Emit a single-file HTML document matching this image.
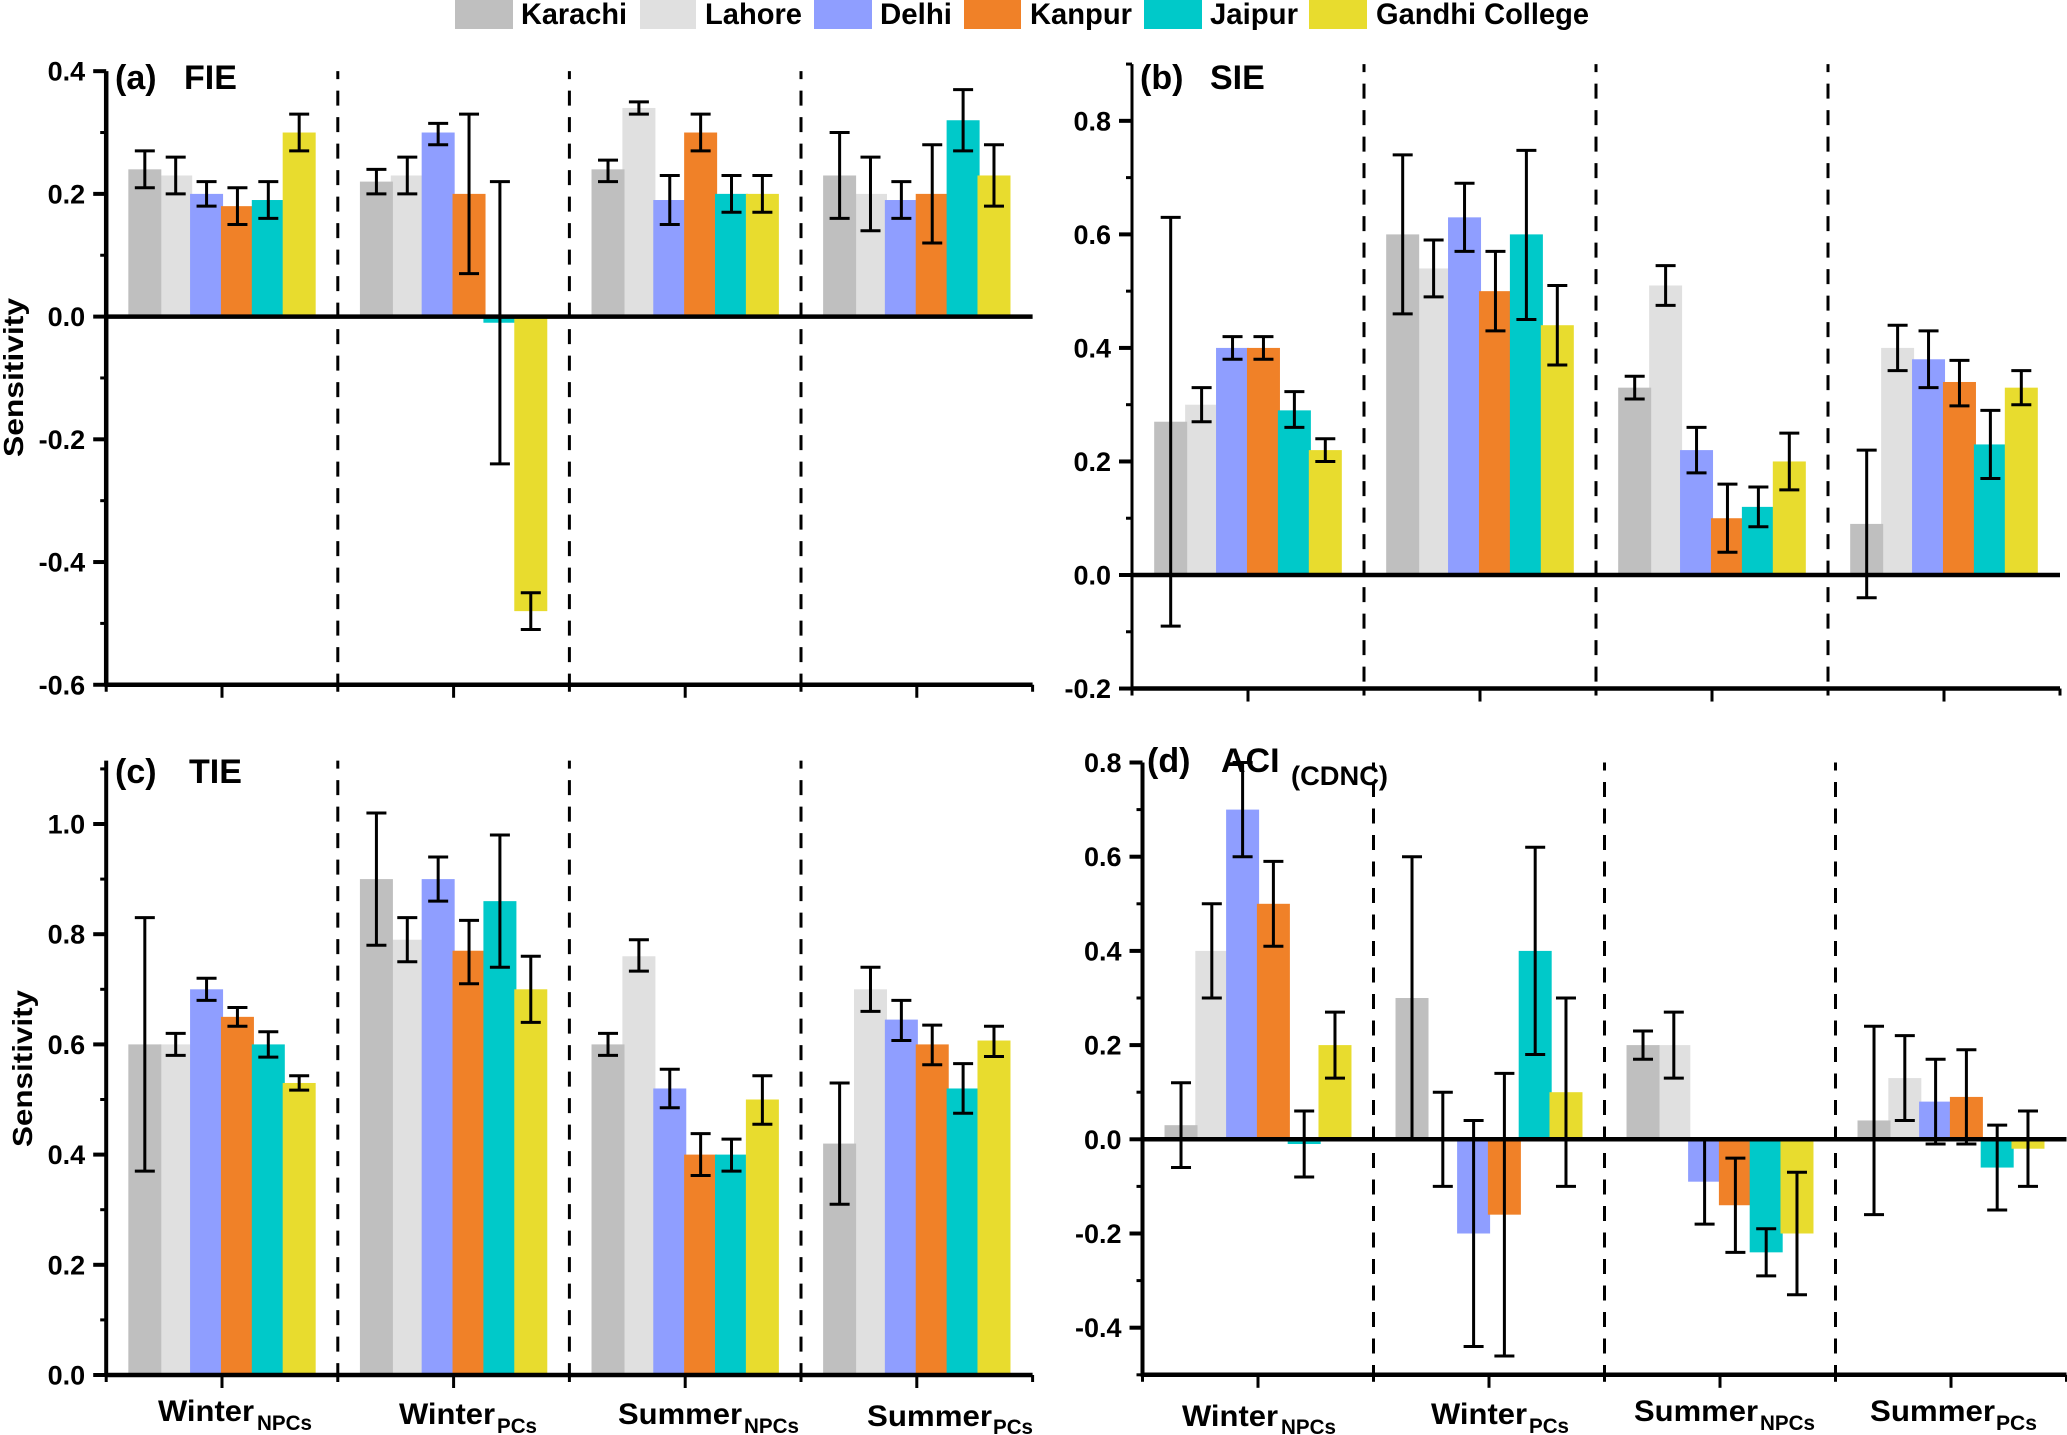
<!DOCTYPE html>
<html lang="en">
<head>
<meta charset="utf-8">
<title>Sensitivity by city and season</title>
<style>
html,body{margin:0;padding:0;background:#fff;}
svg{display:block;}
text{font-family:"Liberation Sans",Arial,sans-serif;font-weight:bold;fill:#000;}
.sub{font-size:21px;}
.cat{font-size:30px;}
.leg{font-size:30px;}
.ttl{font-size:34px;}
.ylab{font-size:28px;}
</style>
</head>
<body>
<svg id="chart" xmlns="http://www.w3.org/2000/svg" width="2067" height="1435" viewBox="0 0 2067 1435">
  <rect x="0" y="0" width="2067" height="1435" fill="#ffffff"/>

  <g>
    <rect x="455" y="0" width="58" height="29" fill="#bfbfbf"/>
    <text class="leg" x="521" y="24" textLength="106" lengthAdjust="spacingAndGlyphs">Karachi</text>
    <rect x="640" y="0" width="56" height="29" fill="#e0e0e0"/>
    <text class="leg" x="705" y="24" textLength="97" lengthAdjust="spacingAndGlyphs">Lahore</text>
    <rect x="814" y="0" width="58" height="29" fill="#8f9eff"/>
    <text class="leg" x="880" y="24" textLength="72" lengthAdjust="spacingAndGlyphs">Delhi</text>
    <rect x="964" y="0" width="57" height="29" fill="#f08128"/>
    <text class="leg" x="1030" y="24" textLength="102" lengthAdjust="spacingAndGlyphs">Kanpur</text>
    <rect x="1144" y="0" width="58" height="29" fill="#00c9c9"/>
    <text class="leg" x="1210" y="24" textLength="88" lengthAdjust="spacingAndGlyphs">Jaipur</text>
    <rect x="1309" y="0" width="58" height="29" fill="#e8dc2e"/>
    <text class="leg" x="1376" y="24" textLength="213" lengthAdjust="spacingAndGlyphs">Gandhi College</text>
  </g>

  <g id="marks"></g>

  <g>
    <text class="ttl" x="115" y="89">(a)</text>
    <text class="ttl" x="184" y="89">FIE</text>
    <text class="ttl" x="1140" y="89">(b)</text>
    <text class="ttl" x="1210" y="89">SIE</text>
    <text class="ttl" x="115" y="783">(c)</text>
    <text class="ttl" x="189" y="783">TIE</text>
    <text class="ttl" x="1147" y="772">(d)</text>
    <text class="ttl" x="1221" y="772">ACI</text>
    <text x="1291" y="785" font-size="27" textLength="97" lengthAdjust="spacingAndGlyphs">(CDNC)</text>
  </g>

  <text class="ylab" transform="translate(23,457) rotate(-90)" textLength="159" lengthAdjust="spacingAndGlyphs">Sensitivity</text>
  <text class="ylab" transform="translate(32,1147) rotate(-90)" textLength="157" lengthAdjust="spacingAndGlyphs">Sensitivity</text>

  <g>
    <text class="cat" x="158" y="1421" textLength="96" lengthAdjust="spacingAndGlyphs">Winter</text>
    <text class="sub" x="257" y="1430" textLength="55" lengthAdjust="spacingAndGlyphs">NPCs</text>
    <text class="cat" x="399" y="1424" textLength="96" lengthAdjust="spacingAndGlyphs">Winter</text>
    <text class="sub" x="497" y="1433" textLength="40" lengthAdjust="spacingAndGlyphs">PCs</text>
    <text class="cat" x="618" y="1424" textLength="124" lengthAdjust="spacingAndGlyphs">Summer</text>
    <text class="sub" x="744" y="1433" textLength="55" lengthAdjust="spacingAndGlyphs">NPCs</text>
    <text class="cat" x="867" y="1426" textLength="125" lengthAdjust="spacingAndGlyphs">Summer</text>
    <text class="sub" x="993" y="1434" textLength="40" lengthAdjust="spacingAndGlyphs">PCs</text>
  </g>
  <g>
    <text class="cat" x="1182" y="1426" textLength="96" lengthAdjust="spacingAndGlyphs">Winter</text>
    <text class="sub" x="1281" y="1434" textLength="55" lengthAdjust="spacingAndGlyphs">NPCs</text>
    <text class="cat" x="1431" y="1424" textLength="96" lengthAdjust="spacingAndGlyphs">Winter</text>
    <text class="sub" x="1529" y="1433" textLength="40" lengthAdjust="spacingAndGlyphs">PCs</text>
    <text class="cat" x="1634" y="1421" textLength="124" lengthAdjust="spacingAndGlyphs">Summer</text>
    <text class="sub" x="1760" y="1430" textLength="55" lengthAdjust="spacingAndGlyphs">NPCs</text>
    <text class="cat" x="1870" y="1421" textLength="125" lengthAdjust="spacingAndGlyphs">Summer</text>
    <text class="sub" x="1996" y="1430" textLength="41" lengthAdjust="spacingAndGlyphs">PCs</text>
  </g>
</svg>

<script>
/* Series order inside every group: Karachi, Lahore, Delhi, Kanpur, Jaipur, Gandhi College */
var cities = ['karachi','lahore','delhi','kanpur','jaipur','gandhi-college'];
var seasons = ['winter-npcs','winter-pcs','summer-npcs','summer-pcs'];

var fieTicks = ['0.4','0.2','0.0','-0.2','-0.4','-0.6'];
var fieValues = [[0.24,0.23,0.20,0.18,0.19,0.30],[0.22,0.23,0.30,0.20,-0.01,-0.48],[0.24,0.34,0.19,0.30,0.20,0.20],[0.23,0.20,0.19,0.20,0.32,0.23]];
var fieLow = [[0.21,0.20,0.18,0.15,0.16,0.27],[0.20,0.20,0.28,0.07,-0.24,-0.51],[0.22,0.33,0.15,0.27,0.17,0.17],[0.16,0.14,0.16,0.12,0.27,0.18]];
var fieHigh = [[0.27,0.26,0.22,0.21,0.22,0.33],[0.24,0.26,0.315,0.33,0.22,-0.45],[0.255,0.35,0.23,0.33,0.23,0.23],[0.30,0.26,0.22,0.28,0.37,0.28]];

var sieTicks = ['0.8','0.6','0.4','0.2','0.0','-0.2'];
var sieValues = [[0.27,0.30,0.40,0.40,0.29,0.22],[0.60,0.54,0.63,0.50,0.60,0.44],[0.33,0.51,0.22,0.10,0.12,0.20],[0.09,0.40,0.38,0.34,0.23,0.33]];
var sieLow = [[-0.09,0.27,0.38,0.38,0.26,0.20],[0.46,0.49,0.57,0.43,0.45,0.37],[0.31,0.475,0.18,0.04,0.085,0.15],[-0.04,0.36,0.33,0.298,0.17,0.30]];
var sieHigh = [[0.63,0.33,0.42,0.42,0.323,0.24],[0.74,0.59,0.69,0.57,0.748,0.51],[0.35,0.545,0.26,0.16,0.155,0.25],[0.22,0.44,0.43,0.378,0.29,0.36]];

var tieTicks = ['1.0','0.8','0.6','0.4','0.2','0.0'];
var tieValues = [[0.60,0.60,0.70,0.65,0.60,0.53],[0.90,0.79,0.90,0.77,0.86,0.70],[0.60,0.76,0.52,0.40,0.40,0.50],[0.42,0.70,0.645,0.60,0.52,0.607]];
var tieLow = [[0.37,0.58,0.68,0.633,0.577,0.517],[0.78,0.75,0.86,0.71,0.74,0.64],[0.58,0.733,0.485,0.362,0.37,0.455],[0.31,0.66,0.607,0.563,0.475,0.578]];
var tieHigh = [[0.83,0.62,0.72,0.667,0.623,0.543],[1.02,0.83,0.94,0.825,0.98,0.76],[0.62,0.79,0.555,0.438,0.428,0.543],[0.53,0.74,0.68,0.635,0.565,0.633]];

var aciTicks = ['0.8','0.6','0.4','0.2','0.0','-0.2','-0.4'];
var aciValues = [[0.03,0.40,0.70,0.50,-0.01,0.20],[0.30,0,-0.20,-0.16,0.40,0.10],[0.20,0.20,-0.09,-0.14,-0.24,-0.20],[0.04,0.13,0.08,0.09,-0.06,-0.02]];
var aciLow = [[-0.06,0.30,0.60,0.41,-0.08,0.13],[0,-0.10,-0.44,-0.46,0.18,-0.10],[0.17,0.13,-0.18,-0.24,-0.29,-0.33],[-0.16,0.04,-0.01,-0.01,-0.15,-0.10]];
var aciHigh = [[0.12,0.50,0.80,0.59,0.06,0.27],[0.60,0.10,0.04,0.14,0.62,0.30],[0.23,0.27,0,-0.04,-0.19,-0.07],[0.24,0.22,0.17,0.19,0.03,0.06]];

var barColors = ['#bfbfbf','#e0e0e0','#8f9eff','#f08128','#00c9c9','#e8dc2e'];

var NS = 'http://www.w3.org/2000/svg';
var root = document.getElementById('marks');

function make(parent, tag, attrs) {
  var el = document.createElementNS(NS, tag);
  for (var k in attrs) { el.setAttribute(k, attrs[k]); }
  parent.appendChild(el);
  return el;
}

function drawPanel(p) {
  var group = make(root, 'g', {});
  
  

  var yScale = function (v) { return p.yZero - v * p.yUnit; };
  var xCenter = function (g) { return p.x0 + (g + 0.5) * p.step; };
  var xRight = p.x0 + p.step * p.values.length;
  var pitch = p.step * 0.1333;
  var barW = 33;
  var yTop = yScale(p.yMax);
  var yBottom = yScale(p.yMin);

  /* bars: Lahore first, so Karachi sits over it */
  var order = [1, 0, 2, 3, 4, 5];
  p.values.forEach(function (row, g) {
    order.forEach(function (s) {
      var v = row[s];
      if (v === 0) { return; }
      var cx = xCenter(g) + (s - 2.5) * pitch;
      var y0 = yScale(Math.max(v, 0));
      var y1 = yScale(Math.min(v, 0));
      var bar = make(group, 'rect', { x: cx - barW / 2, y: y0, width: barW, height: y1 - y0, fill: barColors[s] });
      
      
    });
  });

  /* dashed separators */
  for (var d = 1; d < p.values.length; d++) {
    var sep = make(group, 'line', { x1: p.x0 + d * p.step, x2: p.x0 + d * p.step, y1: yTop, y2: yBottom, stroke: '#000', 'stroke-width': 3, 'stroke-dasharray': '15 11.5', 'stroke-dashoffset': 7 });
    
    
  }

  /* axes */
  var yAxis = make(group, 'line', { x1: p.x0, x2: p.x0, y1: yTop, y2: yBottom + 2, stroke: '#000', 'stroke-width': p.axisW });
  
  
  var xAxis = make(group, 'line', { x1: p.x0 - 1, x2: xRight, y1: yBottom, y2: yBottom, stroke: '#000', 'stroke-width': 4.5 });
  
  
  if (p.yMin < 0) {
    var zero = make(group, 'line', { x1: p.x0, x2: xRight, y1: yScale(0), y2: yScale(0), stroke: '#000', 'stroke-width': 4.5 });
    
    
  }

  /* y ticks and labels */
  p.ticks.forEach(function (label) {
    var v = parseFloat(label);
    var tick = make(group, 'line', { x1: p.x0 - 13, x2: p.x0, y1: yScale(v), y2: yScale(v), stroke: '#000', 'stroke-width': 4 });
    
    
    var txt = make(group, 'text', { x: p.x0 - 21, y: yScale(v) + 9.5, 'text-anchor': 'end', 'font-size': 27 });
    txt.textContent = label;
    
    
  });
  for (var m = p.yMin; m <= p.yMax + 1e-6; m += 0.1) {
    var r = Math.round(m * 10);
    if (r % 2 === 0) { continue; }
    var minor = make(group, 'line', { x1: p.x0 - 6, x2: p.x0, y1: yScale(r / 10), y2: yScale(r / 10), stroke: '#000', 'stroke-width': 3 });
    
    
  }

  /* x ticks */
  p.values.forEach(function (row, g) {
    var t = make(group, 'line', { x1: xCenter(g), x2: xCenter(g), y1: yBottom, y2: yBottom + 13, stroke: '#000', 'stroke-width': 3 });
    
    
  });
  for (var b = 0; b <= p.values.length; b++) {
    var mt = make(group, 'line', { x1: p.x0 + b * p.step, x2: p.x0 + b * p.step, y1: yBottom, y2: yBottom + 7, stroke: '#000', 'stroke-width': 3 });
    
    
  }

  /* error bars */
  p.values.forEach(function (row, g) {
    row.forEach(function (v, s) {
      var cx = xCenter(g) + (s - 2.5) * pitch;
      var lo = yScale(p.low[g][s]);
      var hi = yScale(p.high[g][s]);
      var eb = make(group, 'path', {
        d: 'M' + (cx - 10) + ' ' + hi + 'H' + (cx + 10) + 'M' + cx + ' ' + hi + 'V' + lo + 'M' + (cx - 10) + ' ' + lo + 'H' + (cx + 10),
        fill: 'none', stroke: '#000', 'stroke-width': 3
      });
      
      
    });
  });
}

drawPanel({ id:'a', values:fieValues, low:fieLow, high:fieHigh, ticks:fieTicks, x0:106.2, step:231.6, yZero:316.6, yUnit:613.6, yMin:-0.6, yMax:0.4, axisW:4.5 });
drawPanel({ id:'b', values:sieValues, low:sieLow, high:sieHigh, ticks:sieTicks, x0:1132, step:232, yZero:575, yUnit:567.7, yMin:-0.2, yMax:0.9, axisW:3 });
drawPanel({ id:'c', values:tieValues, low:tieLow, high:tieHigh, ticks:tieTicks, x0:106.2, step:231.6, yZero:1375, yUnit:551, yMin:0, yMax:1.115, axisW:4 });
drawPanel({ id:'d', values:aciValues, low:aciLow, high:aciHigh, ticks:aciTicks, x0:1142.5, step:231, yZero:1139.3, yUnit:471, yMin:-0.5, yMax:0.8, axisW:4 });
</script>
</body>
</html>
